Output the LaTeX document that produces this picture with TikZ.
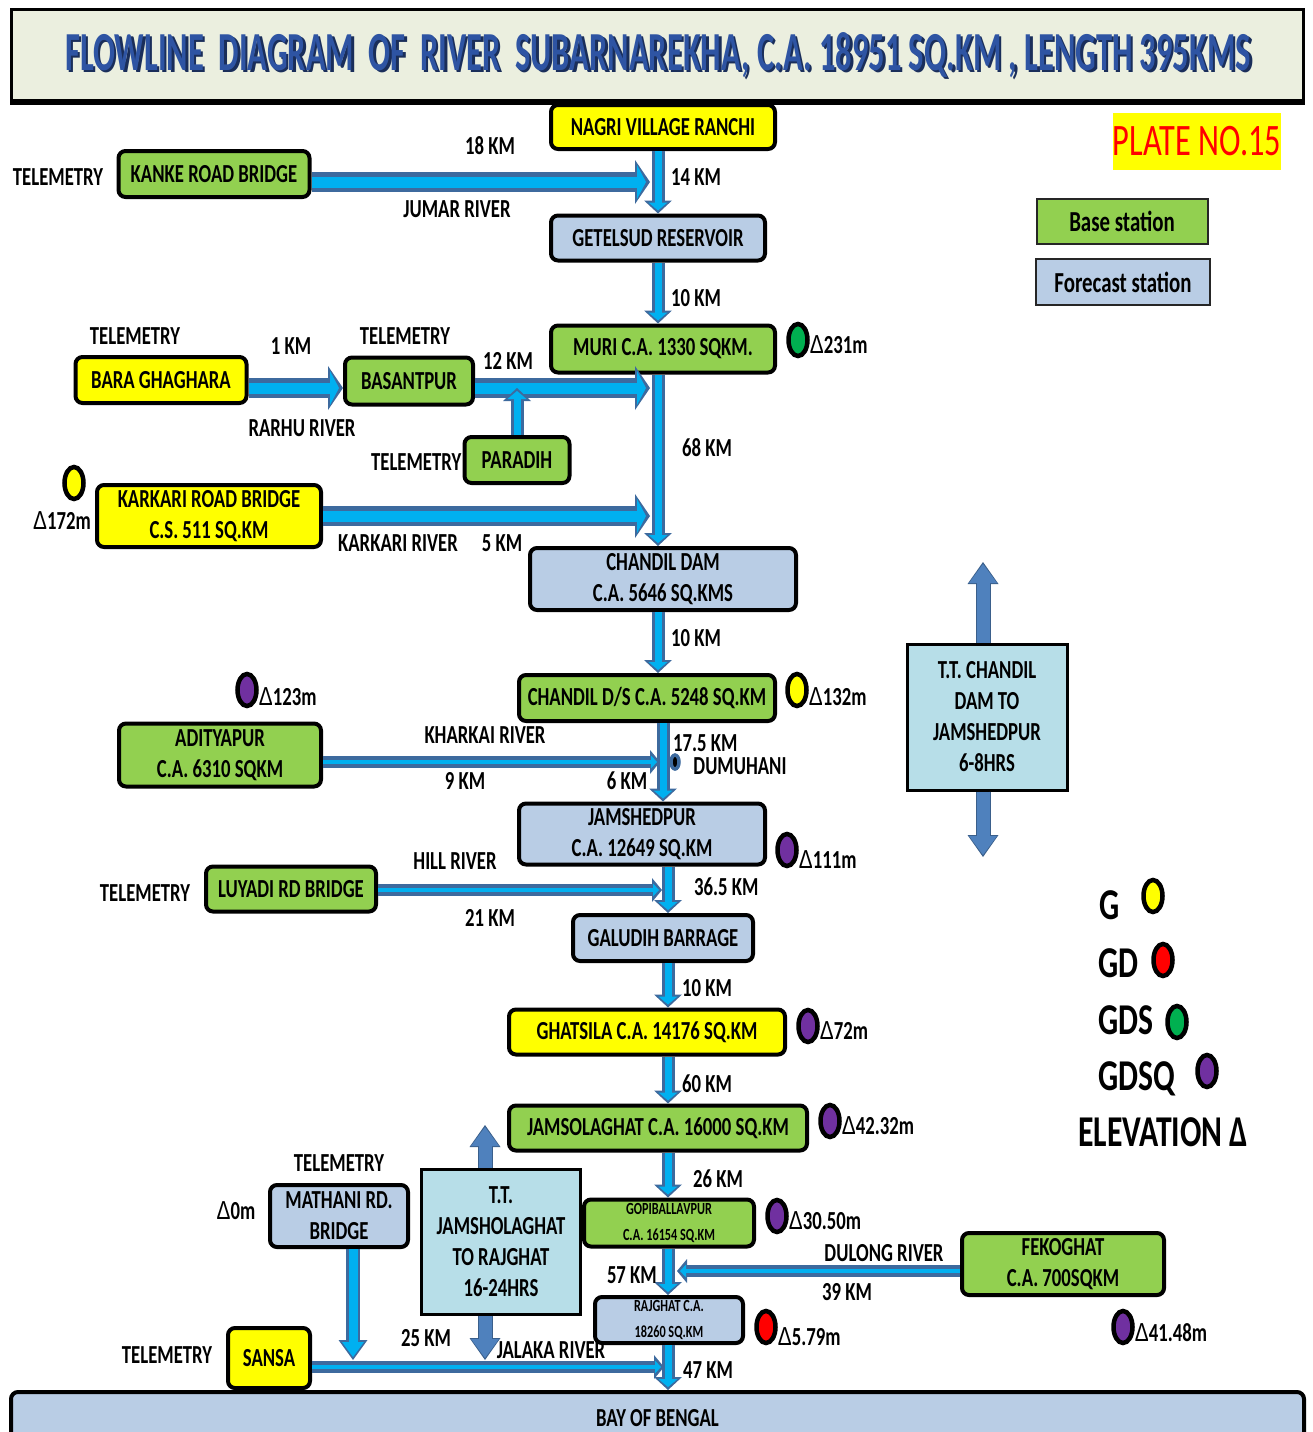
\documentclass[tikz,border=0pt]{standalone}
\usepackage{fontspec}
\setmainfont{Carlito}[FakeStretch=0.72]
\newfontfamily\deltafont{Liberation Sans}[FakeStretch=0.8]
\usepackage{graphicx}
\usetikzlibrary{arrows.meta,positioning,shapes.geometric}

\definecolor{basegreen}{HTML}{92D050}
\definecolor{gaugeyellow}{HTML}{FFFF00}
\definecolor{forecastblue}{HTML}{B9CDE5}
\definecolor{ttblue}{HTML}{B7DEE8}
\definecolor{rivercore}{HTML}{00B0F0}
\definecolor{riveredge}{HTML}{3D6A9E}
\definecolor{ttarrow}{HTML}{4F81BD}
\definecolor{ttedge}{HTML}{3A5F8B}
\definecolor{titlebg}{HTML}{EBEFDF}
\definecolor{titleblue}{HTML}{2E54A3}
\definecolor{titleshade}{HTML}{1A2E5A}
\definecolor{gdsgreen}{HTML}{00B050}
\definecolor{gdsqpurple}{HTML}{7030A0}

\newcommand\stnfont{\fontsize{26}{31}\selectfont\bfseries}
\newcommand\tinystn{\fontsize{17}{26}\selectfont\bfseries}
\newcommand\keyfont{\fontsize{44}{50}\selectfont\bfseries}
\newcommand\legfont{\fontsize{29}{34}\selectfont\bfseries}
\newcommand\platefont{\fontsize{45}{50}\selectfont}
\newcommand\elev{{\deltafont\mdseries Δ}}
\newcommand\flowtitle{\resizebox{1185pt}{38pt}{\bfseries FLOWLINE~ DIAGRAM~ OF~ RIVER~ SUBARNAREKHA, C.A. 18951 SQ.KM , LENGTH 395KMS}}

\begin{document}
\begin{tikzpicture}[x=1pt,y=-1pt,
    station/.style={draw=black,line width=4pt,rounded corners=7pt,align=center,font=\stnfont,inner sep=1pt},
    basestn/.style={station,fill=basegreen},
    gaugestn/.style={station,fill=gaugeyellow},
    fcststn/.style={station,fill=forecastblue},
    ttbox/.style={draw=black,line width=3pt,fill=ttblue,align=center,font=\stnfont,inner sep=1pt},
    keybox/.style={draw=black!85,line width=2pt,align=center,font=\legfont},
    txt/.style={font=\stnfont,inner sep=0pt},
    gaugedot/.style={ellipse,draw=black,line width=4.5pt,fill=#1,minimum width=19pt,minimum height=32pt,inner sep=0pt},
    trunk/.style={draw=rivercore,line width=7pt,shorten >=3pt,-{Triangle[length=8pt,width=19pt,line width=0pt]},
        preaction={draw=riveredge,line width=13pt,shorten >=0pt,-{Triangle[length=13pt,width=28pt,line width=0pt]}}},
    bigriver/.style={draw=rivercore,line width=11pt,shorten >=4pt,-{Triangle[length=9pt,width=34pt,line width=0pt]},
        preaction={draw=riveredge,line width=20pt,shorten >=0pt,-{Triangle[length=15pt,width=44pt,line width=0pt]}}},
    thinriver/.style={draw=rivercore,line width=4pt,shorten >=3pt,-{Triangle[length=6pt,width=13pt,line width=0pt]},
        preaction={draw=riveredge,line width=12pt,shorten >=0pt,-{Triangle[length=10pt,width=24pt,line width=0pt]}}},
    feeder/.style={draw=rivercore,line width=9pt,shorten >=3pt,-{Triangle[length=15pt,width=22pt,line width=0pt]},
        preaction={draw=riveredge,line width=14pt,shorten >=0pt,-{Triangle[length=20pt,width=29pt,line width=0pt]}}},
    ttflow/.style={draw=ttarrow,line width=13pt,shorten >=2pt,-{Triangle[length=19pt,width=28pt,line width=0pt]},
        preaction={draw=ttedge,line width=15pt,shorten >=0pt,-{Triangle[length=22pt,width=31pt,line width=0pt]}}}]

\useasboundingbox (0,0) rectangle (1312,1432);
\clip (0,0) rectangle (1312,1432);

\node[draw=black,line width=3pt,fill=titlebg,minimum width=1292pt,minimum height=91pt,inner sep=0pt]   (titlebox)   at (657.5,55)   {};
\draw[line width=5pt] (titlebox.south west) -- (titlebox.south east);
\node[inner sep=0pt,text=titleblue]   (title)   at (658,56)
    {\makebox[0pt][l]{\hspace*{2.5pt}\raisebox{-2.5pt}{\textcolor{titleshade}{\flowtitle}}}\flowtitle};

\node[fill=gaugeyellow,text=red,font=\platefont,minimum width=167pt,minimum height=57pt,inner sep=0pt]   (plate)   at (1197,141)   {PLATE NO.15};
\node[keybox,fill=basegreen,minimum width=171pt,minimum height=45pt]      (keybase)       at (1122,221)   {Base station};
\node[keybox,fill=forecastblue,minimum width=174pt,minimum height=46pt]   (keyforecast)   at (1123,282)   {Forecast station};

\node[gaugestn,minimum width=224pt,minimum height=44pt]   (nagri)         at (663,127)    {NAGRI VILLAGE RANCHI};
\node[basestn,minimum width=191pt,minimum height=46pt]    (kanke)         at (214,174)    {KANKE ROAD BRIDGE};
\node[fcststn,minimum width=214pt,minimum height=45pt]    (getelsud)      at (658,238)    {GETELSUD RESERVOIR};
\node[basestn,minimum width=224pt,minimum height=47pt]    (muri)          at (663,349)    {MURI C.A. 1330 SQKM.};
\node[gaugestn,minimum width=171pt,minimum height=46pt]   (bara)          at (161,380)    {BARA GHAGHARA};
\node[basestn,minimum width=128pt,minimum height=47pt]    (basantpur)     at (409,381)    {BASANTPUR};
\node[basestn,minimum width=105pt,minimum height=46pt]    (paradih)       at (517,460)    {PARADIH};
\node[gaugestn,minimum width=224pt,minimum height=62pt]   (karkari)       at (209,516)    {KARKARI ROAD BRIDGE\\C.S. 511 SQ.KM};
\node[fcststn,minimum width=266pt,minimum height=62pt]    (chandildam)    at (663,579)    {CHANDIL DAM\\C.A. 5646 SQ.KMS};
\node[basestn,minimum width=256pt,minimum height=46pt]    (chandilds)     at (647,698)    {CHANDIL D/S C.A. 5248 SQ.KM};
\node[basestn,minimum width=202pt,minimum height=63pt]    (adityapur)     at (220,755)    {ADITYAPUR\\C.A. 6310 SQKM};
\node[fcststn,minimum width=246pt,minimum height=61pt]    (jamshedpur)    at (642,834)    {JAMSHEDPUR\\C.A. 12649 SQ.KM};
\node[basestn,minimum width=170pt,minimum height=45pt]    (luyadi)        at (291,889)    {LUYADI RD BRIDGE};
\node[fcststn,minimum width=180pt,minimum height=46pt]    (galudih)       at (663,938)    {GALUDIH BARRAGE};
\node[gaugestn,minimum width=276pt,minimum height=45pt]   (ghatsila)      at (647,1032)   {GHATSILA C.A. 14176 SQ.KM};
\node[basestn,minimum width=298pt,minimum height=45pt]    (jamsolaghat)   at (658,1128)   {JAMSOLAGHAT C.A. 16000 SQ.KM};
\node[fcststn,minimum width=138pt,minimum height=62pt]    (mathani)       at (339,1216)   {MATHANI RD.\\BRIDGE};
\node[basestn,minimum width=170pt,minimum height=47pt,font=\tinystn]   (gopiballavpur)   at (669,1223)   {GOPIBALLAVPUR\\C.A. 16154 SQ.KM};
\node[basestn,minimum width=202pt,minimum height=62pt]    (fekoghat)      at (1063,1264)  {FEKOGHAT\\C.A. 700SQKM};
\node[fcststn,minimum width=148pt,minimum height=46pt,font=\tinystn]   (rajghat)         at (669,1320)   {RAJGHAT C.A.\\18260 SQ.KM};
\node[gaugestn,minimum width=82pt,minimum height=60pt]    (sansa)         at (269,1358)   {SANSA};
\node[fcststn,minimum width=1293pt,minimum height=52pt,anchor=north]   (bay)   at (657.5,1390)   {BAY OF BENGAL};

\node[ttbox,minimum width=160pt,minimum height=146pt]   (ttchandil)   at (987,717)    {T.T. CHANDIL\\DAM TO\\JAMSHEDPUR\\6-8HRS};
\node[ttbox,minimum width=159pt,minimum height=145pt]   (ttjamsola)   at (501,1242)   {T.T.\\JAMSHOLAGHAT\\TO RAJGHAT\\16-24HRS};

\coordinate (upperaxis)      at (658,0);
\coordinate (midaxis)        at (663,0);
\coordinate (loweraxis)      at (668,0);
\coordinate (jkanke)         at (650,182);
\coordinate (jbasant)        at (650,388);
\coordinate (jkarkari)       at (650,516);
\coordinate (jkharkai)       at (660,762);
\coordinate (jhill)          at (662,890);
\coordinate (jdulong)        at (677,1271);
\coordinate (jjalaka)        at (664,1367);
\coordinate (ttchandilup)    at (983,562);
\coordinate (ttchandildown)  at (983,857);
\coordinate (ttjamsolaup)    at (485,1125);
\coordinate (ttjamsoladown)  at (485,1360);
\coordinate (mathaniend)     at (353,1360);

\draw[trunk] (nagri.south -| upperaxis)         -- (getelsud.north -| upperaxis);
\draw[trunk] (getelsud.south -| upperaxis)      -- (muri.north -| upperaxis);
\draw[trunk] (muri.south -| upperaxis)          -- (chandildam.north -| upperaxis);
\draw[trunk] (chandildam.south -| upperaxis)    -- (chandilds.north -| upperaxis);
\draw[trunk] (chandilds.south -| midaxis)       -- (jamshedpur.north -| midaxis);
\draw[trunk] (jamshedpur.south -| loweraxis)    -- (galudih.north -| loweraxis);
\draw[trunk] (galudih.south -| loweraxis)       -- (ghatsila.north -| loweraxis);
\draw[trunk] (ghatsila.south -| loweraxis)      -- (jamsolaghat.north -| loweraxis);
\draw[trunk] (jamsolaghat.south -| loweraxis)   -- (gopiballavpur.north -| loweraxis);
\draw[trunk] (gopiballavpur.south -| loweraxis) -- (rajghat.north -| loweraxis);
\draw[trunk] (rajghat.south -| loweraxis)       -- (bay.north -| loweraxis);

\draw[bigriver]  (kanke.east |- jkanke)       -- (jkanke);
\draw[bigriver]  (bara.east |- jbasant)       -- (basantpur.west |- jbasant);
\draw[bigriver]  (basantpur.east |- jbasant)  -- (jbasant);
\draw[trunk]     (paradih.north)              -- (paradih.north |- jbasant);
\draw[bigriver]  (karkari.east |- jkarkari)   -- (jkarkari);
\draw[thinriver] (adityapur.east |- jkharkai) -- (jkharkai);
\draw[thinriver] (luyadi.east |- jhill)       -- (jhill);
\draw[thinriver] (fekoghat.west |- jdulong)   -- (jdulong);
\draw[thinriver] (sansa.east |- jjalaka)      -- (jjalaka);
\draw[feeder]    (mathani.south -| mathaniend)  -- (mathaniend);
\draw[ttflow]    (ttchandil.north -| ttchandilup)   -- (ttchandilup);
\draw[ttflow]    (ttchandil.south -| ttchandildown) -- (ttchandildown);
\draw[ttflow]    (ttjamsola.north -| ttjamsolaup)   -- (ttjamsolaup);
\draw[ttflow]    (ttjamsola.south -| ttjamsoladown) -- (ttjamsoladown);

\node[ellipse,draw=riveredge,fill=black,line width=3.5pt,minimum width=8pt,minimum height=14pt,inner sep=0pt]   (dumuhani)   at (675,762)   {};

\node[txt,anchor=west]   (km14)    at (671,177)    {14 KM};
\node[txt,anchor=west]   (km10a)   at (671,298)    {10 KM};
\node[txt,anchor=west]   (km68)    at (682,448)    {68 KM};
\node[txt,anchor=west]   (km10b)   at (671,638)    {10 KM};
\node[txt,anchor=west]   (km175)   at (673,743)    {17.5 KM};
\node[txt,anchor=west]   (km365)   at (694,887)    {36.5 KM};
\node[txt,anchor=west]   (km10c)   at (682,988)    {10 KM};
\node[txt,anchor=west]   (km60)    at (682,1084)   {60 KM};
\node[txt,anchor=west]   (km26)    at (693,1179)   {26 KM};
\node[txt,anchor=east]   (km57)    at (657,1275)   {57 KM};
\node[txt,anchor=west]   (km47)    at (683,1370)   {47 KM};

\node[txt]   (telkanke)      at (58,177)     {TELEMETRY};
\node[txt]   (telbara)       at (135,336)    {TELEMETRY};
\node[txt]   (telbasant)     at (405,336)    {TELEMETRY};
\node[txt,left=1pt of paradih,yshift=-2pt]   (telparadih)   {TELEMETRY};
\node[txt]   (telluyadi)     at (145,893)    {TELEMETRY};
\node[txt]   (telmathani)    at (339,1163)   {TELEMETRY};
\node[txt]   (telsansa)      at (167,1355)   {TELEMETRY};

\node[txt]   (km18)          at (490,146)    {18 KM};
\node[txt]   (jumar)         at (457,209)    {JUMAR RIVER};
\node[txt]   (km1)           at (291,346)    {1 KM};
\node[txt]   (rarhu)         at (302,428)    {RARHU RIVER};
\node[txt]   (km12)          at (508,361)    {12 KM};
\node[txt]   (karkaririver)  at (398,543)    {KARKARI RIVER};
\node[txt]   (km5)           at (502,543)    {5 KM};
\node[txt]   (kharkai)       at (485,735)    {KHARKAI RIVER};
\node[txt]   (km9)           at (465,781)    {9 KM};
\node[txt]   (km6)           at (627,781)    {6 KM};
\node[txt]   (dumuhanilbl)   at (740,766)    {DUMUHANI};
\node[txt]   (hill)          at (455,861)    {HILL RIVER};
\node[txt]   (km21)          at (490,918)    {21 KM};
\node[txt]   (dulong)        at (884,1253)   {DULONG RIVER};
\node[txt]   (km39)          at (847,1292)   {39 KM};
\node[txt]   (km25)          at (426,1338)   {25 KM};
\node[txt]   (jalaka)        at (551,1350)   {JALAKA RIVER};

\node[gaugedot=gdsgreen]      (murigauge)      at (798,340)    {};
\node[gaugedot=gaugeyellow]   (karkarigauge)   at (74,483)     {};
\node[gaugedot=gdsqpurple]    (adityagauge)    at (247,690)    {};
\node[gaugedot=gaugeyellow]   (dsgauge)        at (797,690)    {};
\node[gaugedot=gdsqpurple]    (jamshedgauge)   at (787,850)    {};
\node[gaugedot=gdsqpurple]    (ghatsilagauge)  at (808,1026)   {};
\node[gaugedot=gdsqpurple]    (jamsolagauge)   at (830,1121)   {};
\node[gaugedot=gdsqpurple]    (gopigauge)      at (777,1216)   {};
\node[gaugedot=red]           (rajghatgauge)   at (766,1327)   {};
\node[gaugedot=gdsqpurple]    (fekogauge)      at (1123,1327)  {};

\node[txt,right=0pt of murigauge,yshift=-5pt]       (el231)    {\elev231m};
\node[txt]                                          (el172)    at (62,521)   {\elev172m};
\node[txt,right=0pt of adityagauge,yshift=-7pt]     (el123)    {\elev123m};
\node[txt,right=0pt of dsgauge,yshift=-7pt]         (el132)    {\elev132m};
\node[txt,right=0pt of jamshedgauge,yshift=-10pt]   (el111)    {\elev111m};
\node[txt,right=0pt of ghatsilagauge,yshift=-5pt]   (el72)     {\elev72m};
\node[txt,right=0pt of jamsolagauge,yshift=-5pt]    (el4232)   {\elev42.32m};
\node[txt,right=0pt of gopigauge,yshift=-5pt]       (el3050)   {\elev30.50m};
\node[txt,right=0pt of rajghatgauge,yshift=-10pt]   (el579)    {\elev5.79m};
\node[txt,right=0pt of fekogauge,yshift=-6pt]       (el4148)   {\elev41.48m};
\node[txt]                                          (el0)      at (236,1211) {\elev0m};

\node[txt,font=\keyfont,anchor=base west]   (keyg)      at (1099,919)    {G};
\node[txt,font=\keyfont,anchor=base west]   (keygd)     at (1098,977)    {GD};
\node[txt,font=\keyfont,anchor=base west]   (keygds)    at (1098,1034)   {GDS};
\node[txt,font=\keyfont,anchor=base west]   (keygdsq)   at (1098,1090)   {GDSQ};
\node[txt,font=\keyfont,anchor=base west]   (keyelev)   at (1078,1146)   {ELEVATION Δ};
\node[gaugedot=gaugeyellow]   (keyggauge)      at (1153,896)    {};
\node[gaugedot=red]           (keygdgauge)     at (1163,960)    {};
\node[gaugedot=gdsgreen]      (keygdsgauge)    at (1177,1022)   {};
\node[gaugedot=gdsqpurple]    (keygdsqgauge)   at (1207,1071)   {};

\end{tikzpicture}
\end{document}
